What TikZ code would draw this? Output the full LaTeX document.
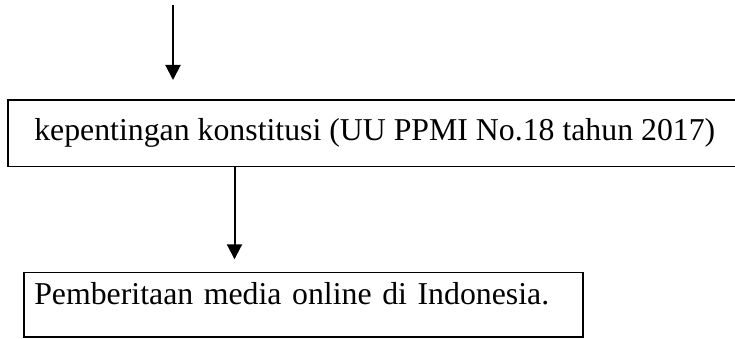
\documentclass[tikz,border=0pt]{standalone}
\usepackage{fontspec}
\setmainfont{Liberation Serif}
\usetikzlibrary{arrows.meta}
\begin{document}
\begin{tikzpicture}[x=1pt,y=-1pt,
  boxnode/.style={draw=black, line width=1.6pt, inner sep=0pt, font=\fontsize{31.8}{38}\selectfont},
  flowarrow/.style={line width=2pt, -{Triangle[width=15pt,length=15pt]}}]
\useasboundingbox (0,0) rectangle (735,339);
\clip (0,0) rectangle (735,339);
\node[boxnode, minimum width=734pt, minimum height=66.5pt, text height=22pt, text depth=6.5pt, anchor=north west] (b1) at (7,99)
  {kepentingan konstitusi (UU PPMI No.18 tahun 2017)};
\node[boxnode, minimum width=559pt, minimum height=64.5pt, text height=22pt, text depth=22.5pt,
      text width=538pt, align=left, inner xsep=10.5pt, anchor=north west] (b2) at (23,271.5)
  {Pemberitaan media online di Indonesia.};
\coordinate (top) at (173,5);
\draw[flowarrow, shorten >=19pt] (top) -- (top |- b1.north);
\coordinate (mid) at (234.5,166);
\draw[flowarrow, shorten >=12.2pt] (mid |- b1.south) -- (mid |- b2.north);
\end{tikzpicture}
\end{document}
